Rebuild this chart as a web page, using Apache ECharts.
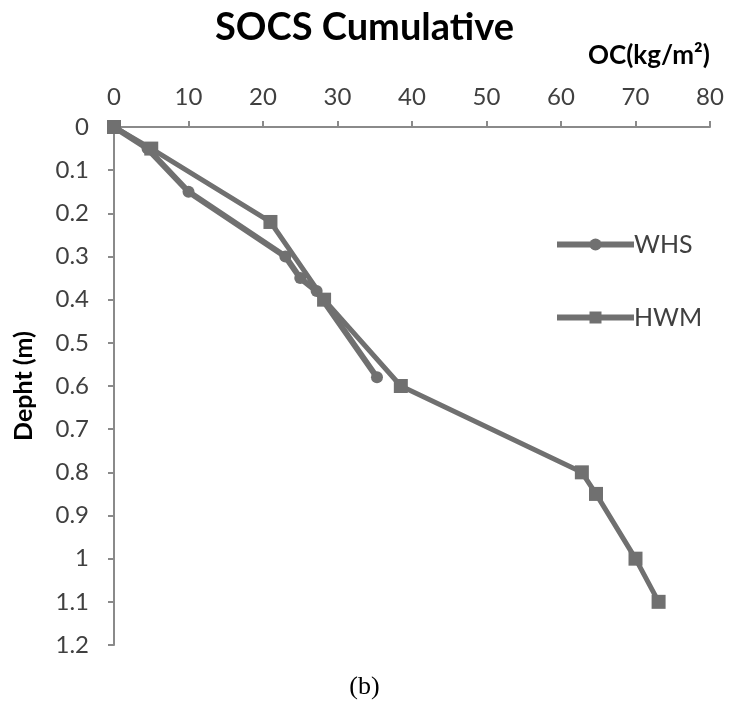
<!DOCTYPE html>
<html>
<head>
<meta charset="utf-8">
<script src="https://cdn.jsdelivr.net/npm/echarts@6/dist/echarts.min.js"></script>
<style>
  html, body { margin: 0; padding: 0; background: #fff; }
  #chart { width: 729px; height: 711px; }
</style>
</head>
<body>
<div id="chart"></div>
<script>
// Cumulative soil organic carbon stock (kg/m²) against depth (m)
const whsOC    = [0, 4.5, 10, 23, 25, 27.2, 35.3];
const whsDepth = [0, 0.05, 0.15, 0.30, 0.35, 0.38, 0.58];
const hwmOC    = [0, 5, 21, 28.2, 38.5, 62.8, 64.7, 70, 73.1];
const hwmDepth = [0, 0.05, 0.22, 0.40, 0.60, 0.80, 0.85, 1.00, 1.10];
const seriesNames = ['WHS', 'HWM'];

const pairs = (xs, ys) => xs.map((x, i) => [x, ys[i]]);

const lineColor = '#707070';
const axisColor = '#8a8a8a';
const labelColor = '#404040';
const font = 'Lato, "Open Sans", sans-serif';

const chart = echarts.init(document.getElementById('chart'));
chart.setOption({
  animation: false,
  backgroundColor: '#fff',
  title: {
    text: 'SOCS Cumulative',
    left: 'center',
    top: 4,
    textStyle: { fontFamily: font, fontSize: 38, fontWeight: 'bold', color: '#000' }
  },
  graphic: [
    {
      type: 'text', left: 588, top: 43,
      style: { text: 'OC(kg/m²)', fontFamily: font, fontSize: 26, fontWeight: 'bold', fill: '#000' }
    },
    {
      type: 'text', left: 'center', top: 674,
      style: { text: '(b)', fontFamily: '"Liberation Serif", "DejaVu Serif", serif', fontSize: 26, fill: '#000' }
    }
  ],
  legend: {
    orient: 'vertical',
    left: 549,
    top: 227,
    itemGap: 48,
    itemWidth: 77,
    itemHeight: 15,
    data: seriesNames.map(n => ({ name: n, lineStyle: { width: 6 } })),
    textStyle: { fontFamily: font, fontSize: 25, color: labelColor, padding: [0, 0, 0, -5] }
  },
  grid: { left: 114, right: 19, top: 127, bottom: 66, containLabel: false },
  xAxis: {
    type: 'value',
    position: 'top',
    min: 0, max: 80, interval: 10,
    axisLine: { show: true, lineStyle: { color: axisColor, width: 2 } },
    axisTick: { show: true, inside: false, length: 6, lineStyle: { color: axisColor, width: 2 } },
    axisLabel: { margin: 18, fontFamily: font, fontSize: 24, color: labelColor },
    splitLine: { show: false }
  },
  yAxis: {
    type: 'value',
    inverse: true,
    min: 0, max: 1.2, interval: 0.1,
    name: 'Depht (m)',
    nameLocation: 'middle',
    nameRotate: 90,
    nameGap: 78,
    nameTextStyle: { fontFamily: font, fontSize: 25, fontWeight: 'bold', color: '#000' },
    axisLine: { show: true, lineStyle: { color: axisColor, width: 2 } },
    axisTick: { show: true, inside: false, length: 6, lineStyle: { color: axisColor, width: 2 } },
    axisLabel: { margin: 25, fontFamily: font, fontSize: 24, color: labelColor },
    splitLine: { show: false }
  },
  series: [
    {
      name: seriesNames[0],
      type: 'line',
      data: pairs(whsOC, whsDepth),
      symbol: 'circle',
      symbolSize: 12,
      lineStyle: { color: lineColor, width: 6 },
      itemStyle: { color: lineColor },
      z: 2
    },
    {
      name: seriesNames[1],
      type: 'line',
      data: pairs(hwmOC, hwmDepth),
      symbol: 'rect',
      symbolSize: 14,
      lineStyle: { color: lineColor, width: 5 },
      itemStyle: { color: lineColor },
      z: 3
    }
  ]
});
</script>
</body>
</html>
